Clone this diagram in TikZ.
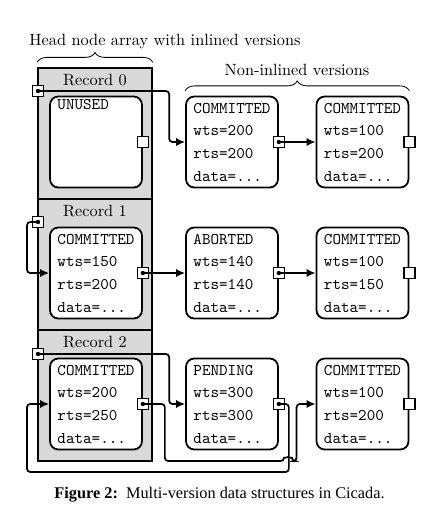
\documentclass[tikz,border=0pt]{standalone}
\usepackage{fontspec}
\newfontfamily\capfont{Liberation Serif}
\usetikzlibrary{arrows.meta,decorations.pathreplacing,positioning}

\tikzset{
  record/.style={draw, line width=1pt, fill=black!15, minimum width=69.9pt, minimum height=80.4pt, inner sep=0pt},
  version/.style={draw, line width=1.1pt, fill=white, rounded corners=5pt, minimum width=56.4pt, minimum height=55.8pt,
    text width=47.25pt, align=left, inner sep=0pt, font=\fontsize{10pt}{13.9pt}\selectfont\ttfamily},
  ptr/.style={draw, line width=1pt, fill=white, minimum size=6.75pt, inner sep=0pt},
  link/.style={line width=1.05pt, rounded corners=2pt, -{Latex[length=5.5pt,width=5pt]}},
  dot/.style={circle, fill, inner sep=0pt, minimum size=2.7pt},
  brc/.style={decorate, decoration={brace, amplitude=6pt}, line width=0.5pt},
}

\begin{document}
\begin{tikzpicture}[x=0.6135pt, y=-0.6135pt]
\useasboundingbox (0,0) rectangle (420,514);

% head node array
\node[record] (rec0) at (95,133.5) {};
\node[record] (rec1) at (95,264.5) {};
\node[record] (rec2) at (95,395.5) {};
\node[below=1pt of rec0.north] (t0) {Record 0};
\node[below=1pt of rec1.north] (t1) {Record 1};
\node[below=1pt of rec2.north] (t2) {Record 2};

% inlined versions
\node[version] (in0) at (96,142) {UNUSED\\\strut\\\strut\\\strut};
\node[version] (in1) at (96,273) {COMMITTED\\wts=150\\rts=200\\data=...};
\node[version] (in2) at (96,404) {COMMITTED\\wts=200\\rts=250\\data=...};

% non-inlined versions
\node[version] (v01) at (232,142) {COMMITTED\\wts=200\\rts=200\\data=...};
\node[version] (v02) at (362.5,142) {COMMITTED\\wts=100\\rts=200\\data=...};
\node[version] (v11) at (232,273) {ABORTED\\wts=140\\rts=140\\data=...};
\node[version] (v12) at (362.5,273) {COMMITTED\\wts=100\\rts=150\\data=...};
\node[version] (v21) at (232,404) {PENDING\\wts=300\\rts=300\\data=...};
\node[version] (v22) at (362.5,404) {COMMITTED\\wts=100\\rts=200\\data=...};

% pointers
\node[ptr] (h0) at (38,91) {};
\node[ptr] (h1) at (38,222) {};
\node[ptr] (h2) at (38,354) {};
\node[ptr] (p0) at (in0.east) {};
\node[ptr] (p1) at (in1.east) {};
\node[ptr] (p2) at (in2.east) {};
\node[ptr] (q0) at (v01.east) {};
\node[ptr] (q1) at (v11.east) {};
\node[ptr] (q2) at (v21.east) {};
\node[ptr] (r0) at (v02.east) {};
\node[ptr] (r1) at (v12.east) {};
\node[ptr] (r2) at (v22.east) {};

% links
\draw[link] (h0.center) -| ([xshift=-9.8pt]v01.west) -- (v01.west);
\draw[link] (q0.center) -- (v02.west);
\draw[link] (h1.center) -- ++(-11,0) |- (in1.west);
\draw[link] (p1.center) -- (v11.west);
\draw[link] (q1.center) -- (v12.west);
\draw[link] (h2.center) -| ([xshift=-9.8pt]v21.west) -- (v21.west);
\draw[link] (q2.center) -- ++(10,0) |- (27,472) |- (in2.west);
\draw[link] (p2.center) -- ++(22,0) |- (284,461) arc[start angle=180, end angle=0, radius=2.45pt]
  -| ([xshift=-11.7pt]v22.west) -- (v22.west);
\foreach \p in {h0,h1,h2,p1,p2,q0,q1,q2}
  \node[dot] at (\p.center) {};

% braces
\draw[brc] ([yshift=3pt]rec0.north west) -- ([yshift=3pt]rec0.north east);
\draw[brc] ([yshift=3pt]v01.north west) -- ([yshift=3pt]v02.north east);
\node (headlbl) at (165,42) {Head node array with inlined versions};
\node (restlbl) at (297,70) {Non-inlined versions};

\node (caption) at (219.5,495) {\capfont\textbf{Figure 2:}\enspace Multi-version data structures in Cicada.};
\end{tikzpicture}
\end{document}
